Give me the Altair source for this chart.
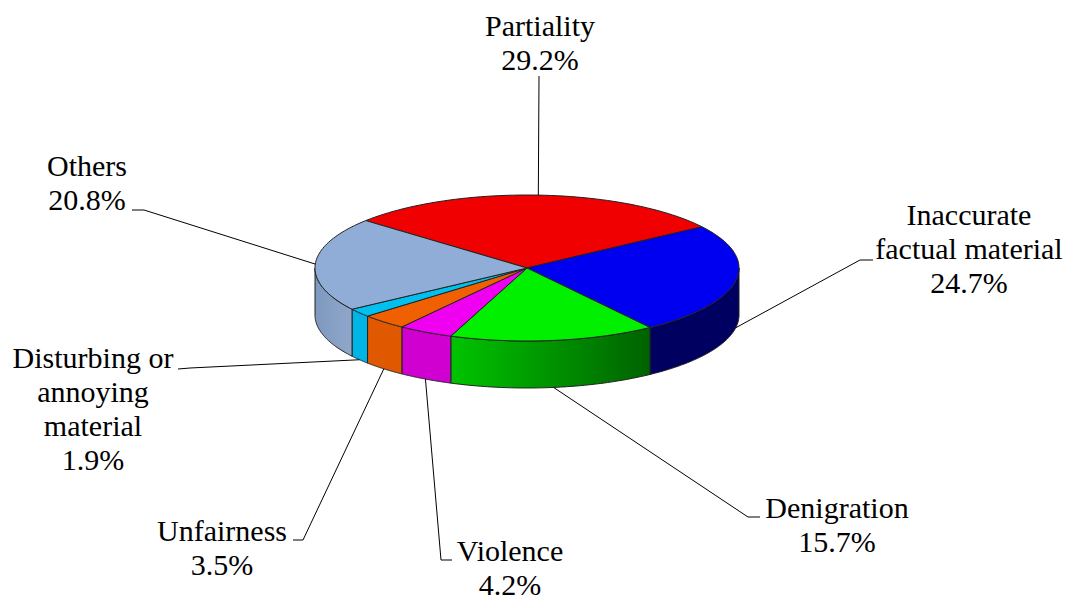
import altair as alt
import pandas as pd

# ---------------- data ----------------
categories = ["Partiality", "Inaccurate factual material", "Denigration", "Violence",
              "Unfairness", "Disturbing or annoying material", "Others"]
values = [29.2, 24.7, 15.7, 4.2, 3.5, 1.9, 20.8]
label_lines = [["Partiality"], ["Inaccurate", "factual material"], ["Denigration"],
               ["Violence"], ["Unfairness"], ["Disturbing or", "annoying", "material"], ["Others"]]

# ---------------- styles ----------------
top_colors = ["#f00000", "#0000f0", "#00f000", "#f000f0", "#f06000", "#00c0f0", "#8fadd6"]
side_fills = [
    "#c00000",
    "#000060",
    {"gradient": "linear", "x1": 0, "x2": 1, "y1": 0, "y2": 0,
     "stops": [{"offset": 0, "color": "#00c400"}, {"offset": 1, "color": "#006200"}]},
    "#d000d0",
    "#e05800",
    "#00b4e6",
    {"gradient": "linear", "x1": 0, "x2": 1, "y1": 0, "y2": 0,
     "stops": [{"offset": 0, "color": "#7f98bd"}, {"offset": 1, "color": "#8ea7cb"}]},
]

# ---------------- layout (page pixel space) ----------------
W, H = 1059, 592
START = -49.5          # start angle of first slice, degrees clockwise from top
CX, CY = 527, 268      # centre of top face
RX, RY = 212, 73       # ellipse radii of top face
DEPTH = 47             # thickness of the pie
N = 60                 # points per arc

label_pos = [(540, 36), (969, 225), (837, 518), (510, 561), (222, 541), (93, 368), (87, 176)]
leader_elbow = [(539, 76), (860, 260), (748, 517), (441, 560), (303, 540), (190, 368), (144, 210)]
leader_end = [(539, 76), (873, 260), (760, 517), (452, 560), (293, 540), (178, 369), (132, 210)]

FONT = "'Liberation Serif', 'DejaVu Serif', serif"

xs = alt.Scale(domain=[8, 8 + W], nice=False, zero=False)
ys = alt.Scale(domain=[8, 8 + H], nice=False, zero=False, reverse=True)

df = pd.DataFrame({"category": categories, "value": values, "idx": list(range(len(values)))})


def with_angles(ch):
    return ch.transform_window(
        cum="sum(value)", sort=[alt.SortField(field="idx", order="ascending")], frame=[None, 0]
    ).transform_joinaggregate(
        total="sum(value)"
    ).transform_calculate(
        a0=f"{START} + 360 * (datum.cum - datum.value) / datum.total",
        a1=f"{START} + 360 * datum.cum / datum.total",
    )


# ---------------- side walls ----------------
walls = []
for cat, fill in zip(categories, side_fills):
    w = with_angles(alt.Chart(df)).transform_filter(
        alt.datum.category == cat
    ).transform_calculate(
        w0="max(datum.a0, 90)", w1="min(datum.a1, 270)"
    ).transform_filter(
        "datum.w1 > datum.w0"
    ).transform_calculate(
        k=f"sequence(0, {2 * N + 3})"
    ).transform_flatten(
        ["k"]
    ).transform_calculate(
        j=f"datum.k <= {N} ? datum.k : (datum.k <= {2 * N + 1} ? {2 * N + 1} - datum.k : 0)",
        b=f"(datum.k > {N} && datum.k <= {2 * N + 1}) ? 1 : 0",
    ).transform_calculate(
        ang=f"(datum.w0 + (datum.w1 - datum.w0) * datum.j / {N}) * PI / 180"
    ).transform_calculate(
        px=f"{CX} + {RX} * sin(datum.ang)",
        py=f"{CY} - {RY} * cos(datum.ang) + {DEPTH} * datum.b",
    ).mark_line(
        filled=True, fill=fill, stroke="#222222", strokeWidth=1, strokeJoin="round"
    ).encode(
        x=alt.X("px:Q", scale=xs, axis=None),
        y=alt.Y("py:Q", scale=ys, axis=None),
        order=alt.Order("k:Q"),
    )
    walls.append(w)

# ---------------- top face ----------------
top = with_angles(alt.Chart(df)).transform_calculate(
    k=f"sequence(-1, {N + 2})"
).transform_flatten(
    ["k"]
).transform_calculate(
    r=f"(datum.k < 0 || datum.k > {N}) ? 0 : 1",
    ang=f"(datum.a0 + (datum.a1 - datum.a0) * clamp(datum.k, 0, {N}) / {N}) * PI / 180",
).transform_calculate(
    px=f"{CX} + {RX} * datum.r * sin(datum.ang)",
    py=f"{CY} - {RY} * datum.r * cos(datum.ang)",
).mark_line(
    filled=True, stroke="#222222", strokeWidth=1, strokeJoin="round"
).encode(
    x=alt.X("px:Q", scale=xs, axis=None),
    y=alt.Y("py:Q", scale=ys, axis=None),
    order=alt.Order("k:Q"),
    color=alt.Color("category:N", scale=alt.Scale(domain=categories, range=top_colors), legend=None),
)

# ---------------- leader lines ----------------
lead_df = df.copy()
lead_df["ex"] = [p[0] for p in leader_elbow]
lead_df["ey"] = [p[1] for p in leader_elbow]
lead_df["lx"] = [p[0] for p in leader_end]
lead_df["ly"] = [p[1] for p in leader_end]

leaders = with_angles(alt.Chart(lead_df)).transform_calculate(
    mid="(datum.a0 + datum.a1) / 2"
).transform_calculate(
    sx=f"{CX} + {RX} * sin(datum.mid * PI / 180)",
    sy=f"{CY} - {RY} * cos(datum.mid * PI / 180) + ((datum.mid > 90 && datum.mid < 270) ? {DEPTH} : 0)",
    p="[0, 1, 2]",
).transform_flatten(
    ["p"]
).transform_calculate(
    px="datum.p == 0 ? datum.sx : (datum.p == 1 ? datum.ex : datum.lx)",
    py="datum.p == 0 ? datum.sy : (datum.p == 1 ? datum.ey : datum.ly)",
).mark_line(
    color="#000000", strokeWidth=1
).encode(
    x=alt.X("px:Q", scale=xs, axis=None),
    y=alt.Y("py:Q", scale=ys, axis=None),
    detail="category:N",
    order=alt.Order("p:Q"),
)

# ---------------- labels ----------------
text_df = pd.DataFrame({
    "label": ["\n".join(lines + [f"{v:.1f}%"]) for lines, v in zip(label_lines, values)],
    "tx": [p[0] for p in label_pos],
    "ty": [p[1] for p in label_pos],
})
labels = alt.Chart(text_df).mark_text(
    font=FONT, fontSize=30, lineHeight=34, lineBreak="\n",
    align="center", baseline="alphabetic", color="#000000"
).encode(
    x=alt.X("tx:Q", scale=xs, axis=None),
    y=alt.Y("ty:Q", scale=ys, axis=None),
    text="label:N",
)

chart = alt.layer(*walls, top, leaders, labels).properties(
    width=W, height=H, padding=0, autosize="none", background="#ffffff"
).configure_view(stroke=None)

chart.save("out.html", embed_options={"renderer": "svg", "actions": False})
